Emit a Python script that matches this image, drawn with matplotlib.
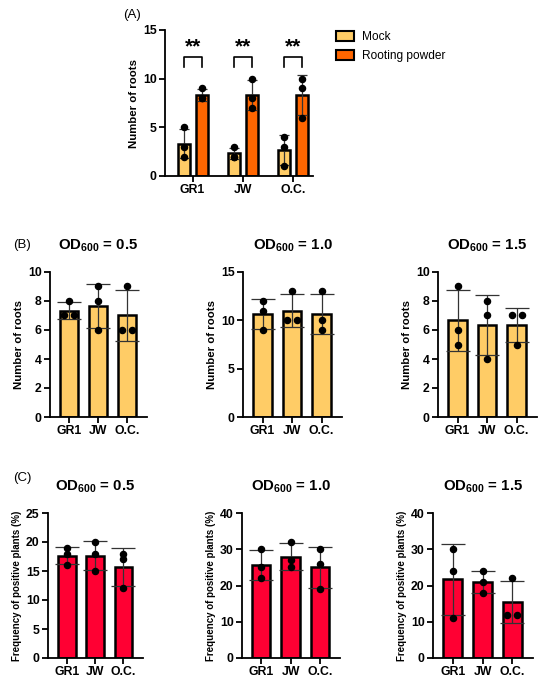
import numpy as np
import matplotlib
matplotlib.use("Agg")
import matplotlib.pyplot as plt
from matplotlib.patches import Patch

plt.rcParams['font.family'] = ['Liberation Sans', 'DejaVu Sans']
plt.rcParams['mathtext.fontset'] = 'custom'
plt.rcParams['mathtext.bf'] = 'Liberation Sans:bold'
plt.rcParams['mathtext.rm'] = 'Liberation Sans'

strains = ["GR1", "JW", "O.C."]

# Panel A: number of roots, replicate values
a_mock = [[5, 3, 2], [3, 2, 2], [4, 3, 1]]
a_powder = [[9, 8, 8], [10, 8, 7], [10, 9, 6]]

# Panel B: number of roots at each OD600
od_titles = ["0.5", "1.0", "1.5"]
b_data = [
    [[8, 7, 7], [9, 8, 6], [9, 6, 6]],
    [[12, 11, 9], [13, 10, 10], [13, 10, 9]],
    [[9, 6, 5], [8, 7, 4], [7, 7, 5]],
]
b_ymax = [10, 15, 10]
b_yticks = [[0, 2, 4, 6, 8, 10], [0, 5, 10, 15], [0, 2, 4, 6, 8, 10]]

# Panel C: frequency of positive plants (%)
c_data = [
    [[19, 18, 16], [20, 18, 15], [18, 17, 12]],
    [[30, 25, 22], [32, 27, 25], [30, 26, 19]],
    [[30, 24, 11], [24, 21, 18], [22, 12, 12]],
]
c_ymax = [25, 40, 40]
c_yticks = [[0, 5, 10, 15, 20, 25], [0, 10, 20, 30, 40], [0, 10, 20, 30, 40]]

MOCK = "#FFCC66"
POWDER = "#FF6600"
RED = "#FF0033"

W, H = 550, 689
fig = plt.figure(figsize=(W / 100, H / 100), dpi=100)


def add_ax(l, r, t, b):
    return fig.add_axes([l / W, (H - b) / H, (r - l) / W, (b - t) / H])


def style(ax, ymax, yticks):
    ax.set_ylim(0, ymax)
    ax.set_yticks(yticks)
    for s in ["top", "right"]:
        ax.spines[s].set_visible(False)
    for s in ["left", "bottom"]:
        ax.spines[s].set_linewidth(1.3)
    ax.tick_params(axis="both", direction="out", length=4, width=1.3, labelsize=8.8, pad=2)
    for lab in ax.get_xticklabels() + ax.get_yticklabels():
        lab.set_fontweight("bold")


def offsets(vals, spread):
    res = [0.0] * len(vals)
    seen = {}
    for i, v in enumerate(vals):
        cnt = vals.count(v)
        if cnt > 1:
            j = seen.get(v, 0)
            res[i] = -spread + 2 * spread * j / (cnt - 1)
            seen[v] = j + 1
    return res


def draw_bar(ax, x, vals, color, width, spread):
    m = np.mean(vals)
    sd = np.std(vals, ddof=1)
    ax.bar(x, m, width=width, color=color, edgecolor="black", linewidth=1.8, zorder=2)
    ax.errorbar(x, m, yerr=sd, fmt="none", ecolor="#333333", elinewidth=0.9,
                capsize=width * 14, capthick=0.9, zorder=3)
    offs = offsets(vals, spread)
    ax.plot([x + o for o in offs], vals, "o", color="black", ms=4.4, zorder=4, clip_on=False)


def od_title(ax, val):
    ax.set_title(r"OD$_{\mathbf{600}}$ = " + val, fontsize=10.8, fontweight="bold", pad=16)


# ---------- Panel A ----------
axA = add_ax(165, 313, 30, 176)
xs = np.arange(len(strains))
for i in range(len(strains)):
    draw_bar(axA, xs[i] - 0.18, a_mock[i], MOCK, 0.24, 0.0)
    draw_bar(axA, xs[i] + 0.18, a_powder[i], POWDER, 0.24, 0.0)
    y0, y1 = 11.2, 12.2
    axA.plot([xs[i] - 0.18, xs[i] - 0.18, xs[i] + 0.18, xs[i] + 0.18],
             [y0, y1, y1, y0], color="black", lw=1.2, clip_on=False)
    axA.text(xs[i], 12.3, "**", ha="center", va="bottom", fontsize=15, fontweight="bold")
axA.set_xlim(-0.55, 2.4)
axA.set_xticks(xs)
axA.set_xticklabels(strains)
style(axA, 15, [0, 5, 10, 15])
axA.set_ylabel("Number of roots", fontsize=8.2, fontweight="bold", labelpad=3)
axA.legend(handles=[Patch(facecolor=MOCK, edgecolor="black", linewidth=1.5, label="Mock"),
                    Patch(facecolor=POWDER, edgecolor="black", linewidth=1.5, label="Rooting powder")],
           loc="upper left", bbox_to_anchor=(1.08, 1.07), frameon=False, fontsize=8.6,
           handlelength=1.5, handleheight=1.0, labelspacing=0.55, handletextpad=0.7)
fig.text(123 / W, 1 - 15 / H, "(A)", fontsize=9.5, va="center", ha="left")

# ---------- Panel B ----------
b_pos = [(50, 147), (243, 342), (438, 537)]
for k in range(3):
    ax = add_ax(b_pos[k][0], b_pos[k][1], 272, 417)
    for i in range(len(strains)):
        draw_bar(ax, xs[i], b_data[k][i], MOCK, 0.62, 0.17)
    ax.set_xlim(-0.66, 2.69)
    ax.set_xticks(xs)
    ax.set_xticklabels(strains)
    style(ax, b_ymax[k], b_yticks[k])
    ax.set_ylabel("Number of roots", fontsize=8.2, fontweight="bold", labelpad=3)
    od_title(ax, od_titles[k])
fig.text(13 / W, 1 - 245 / H, "(B)", fontsize=9.5, va="center", ha="left")

# ---------- Panel C ----------
c_pos = [(48, 143), (242, 340), (433, 533)]
for k in range(3):
    ax = add_ax(c_pos[k][0], c_pos[k][1], 513, 658)
    for i in range(len(strains)):
        draw_bar(ax, xs[i], c_data[k][i], RED, 0.62, 0.17)
    ax.set_xlim(-0.66, 2.69)
    ax.set_xticks(xs)
    ax.set_xticklabels(strains)
    style(ax, c_ymax[k], c_yticks[k])
    ax.set_ylabel("Frequency of positive plants (%)", fontsize=7.0, fontweight="bold", labelpad=3)
    od_title(ax, od_titles[k])
fig.text(13 / W, 1 - 478 / H, "(C)", fontsize=9.5, va="center", ha="left")

fig.savefig("out.png", dpi=100)
